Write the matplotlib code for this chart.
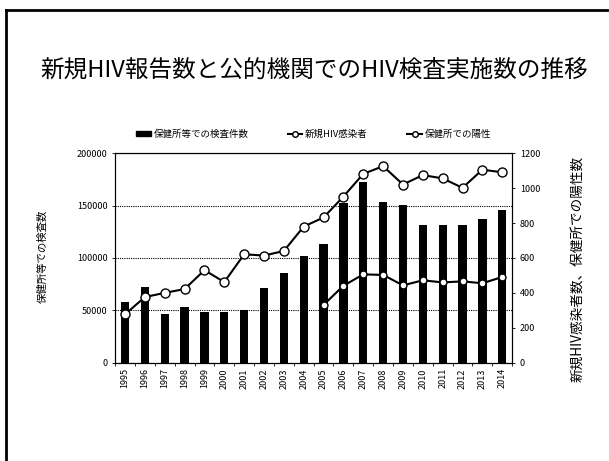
import numpy as np
import matplotlib
matplotlib.use("Agg")
from matplotlib import pyplot as plt
from matplotlib.lines import Line2D
from matplotlib.patches import Rectangle

plt.rcParams['font.family'] = ['Noto Sans CJK JP', 'DejaVu Sans']

years = [str(y) for y in range(1995, 2015)]
tests = [57500, 72000, 46500, 53200, 48100, 48700, 50000, 71700, 85400, 101600,
         113400, 152500, 172300, 153200, 150300, 131500, 131500, 131500, 136900, 145500]
new_hiv = [277, 376, 400, 422, 530, 462, 621, 614, 640, 780,
           832, 952, 1082, 1126, 1021, 1075, 1056, 1002, 1106, 1091]
pos_years = years[10:]
positives = [331, 441, 506, 503, 443, 472, 460, 466, 455, 491]

fig = plt.figure(figsize=(6.09, 4.61), dpi=100)
fig.add_artist(Line2D([6/609, 6/609], [0, 1-10/461], color="black", lw=2))
fig.add_artist(Line2D([6/609, 1], [1-10/461, 1-10/461], color="black", lw=2))

fig.text(0.516, 1-70/461, "新規HIV報告数と公的機関でのHIV検査実施数の推移",
         ha="center", va="center", fontsize=17)

ax = fig.add_axes([0.189, 0.2133, 0.652, 0.4542])
x = np.arange(len(years))
bars = ax.bar(x, tests, width=0.42, color="black", zorder=2)
ax.set_xlim(-0.5, len(years)-0.5)
ax.set_ylim(0, 200000)
ax.set_yticks(np.arange(0, 200001, 50000))
ax.set_xticks(x)
ax.set_xticklabels(years, rotation=90, fontsize=6.5)
ax.tick_params(axis="y", labelsize=6.5, length=2, width=0.6)
ax.tick_params(axis="x", length=0, pad=4)
ax.set_xticks(np.arange(-0.5, len(years)), minor=True)
ax.tick_params(axis="x", which="minor", length=2.5, width=0.6, direction="out")
ax.yaxis.grid(True, linestyle=(0, (1, 1)), color="black", lw=0.8, zorder=0)
for s in ax.spines.values():
    s.set_linestyle((0, (1, 1)))
    s.set_linewidth(0.8)
ax.set_ylabel("保健所等での検査数", fontsize=7.5)
ax.yaxis.set_label_coords(-0.171, 0.51)

ax2 = ax.twinx()
ax2.set_ylim(0, 1200)
ax2.set_yticks(np.arange(0, 1201, 200))
ax2.tick_params(axis="y", labelsize=6.5, length=2, width=0.6)
for s in ax2.spines.values():
    s.set_linestyle((0, (1, 1)))
    s.set_linewidth(0.8)
l1, = ax2.plot(x, new_hiv, "k-", lw=1.5, marker="o", ms=6.5,
               mfc="white", mec="black", mew=1.0, zorder=3)
px = np.arange(10, 20)
l2, = ax2.plot(px, positives, "k-", lw=1.5, marker="o", ms=5,
               mfc="white", mec="black", mew=1.0, zorder=3)
ax2.set_ylabel("新規HIV感染者数、保健所での陽性数", fontsize=9.8, rotation=90)
ax2.yaxis.set_label_coords(1.146, 0.447)

h1 = Rectangle((0, 0), 1, 1, color="black")
h2 = Line2D([], [], color="black", lw=1.5, marker="o", ms=4, mfc="white", mec="black")
h3 = Line2D([], [], color="black", lw=1.5, marker="o", ms=4, mfc="white", mec="black")
leg = fig.legend([h1, h2, h3], ["保健所等での検査件数", "新規HIV感染者", "保健所での陽性"],
                 loc="center", bbox_to_anchor=(0.515, 1-134/461), ncol=3, frameon=False,
                 fontsize=6.8, columnspacing=4.2, handlelength=1.5, handletextpad=0.3,
                 handleheight=0.5)

fig.savefig("out.png", dpi=100)
